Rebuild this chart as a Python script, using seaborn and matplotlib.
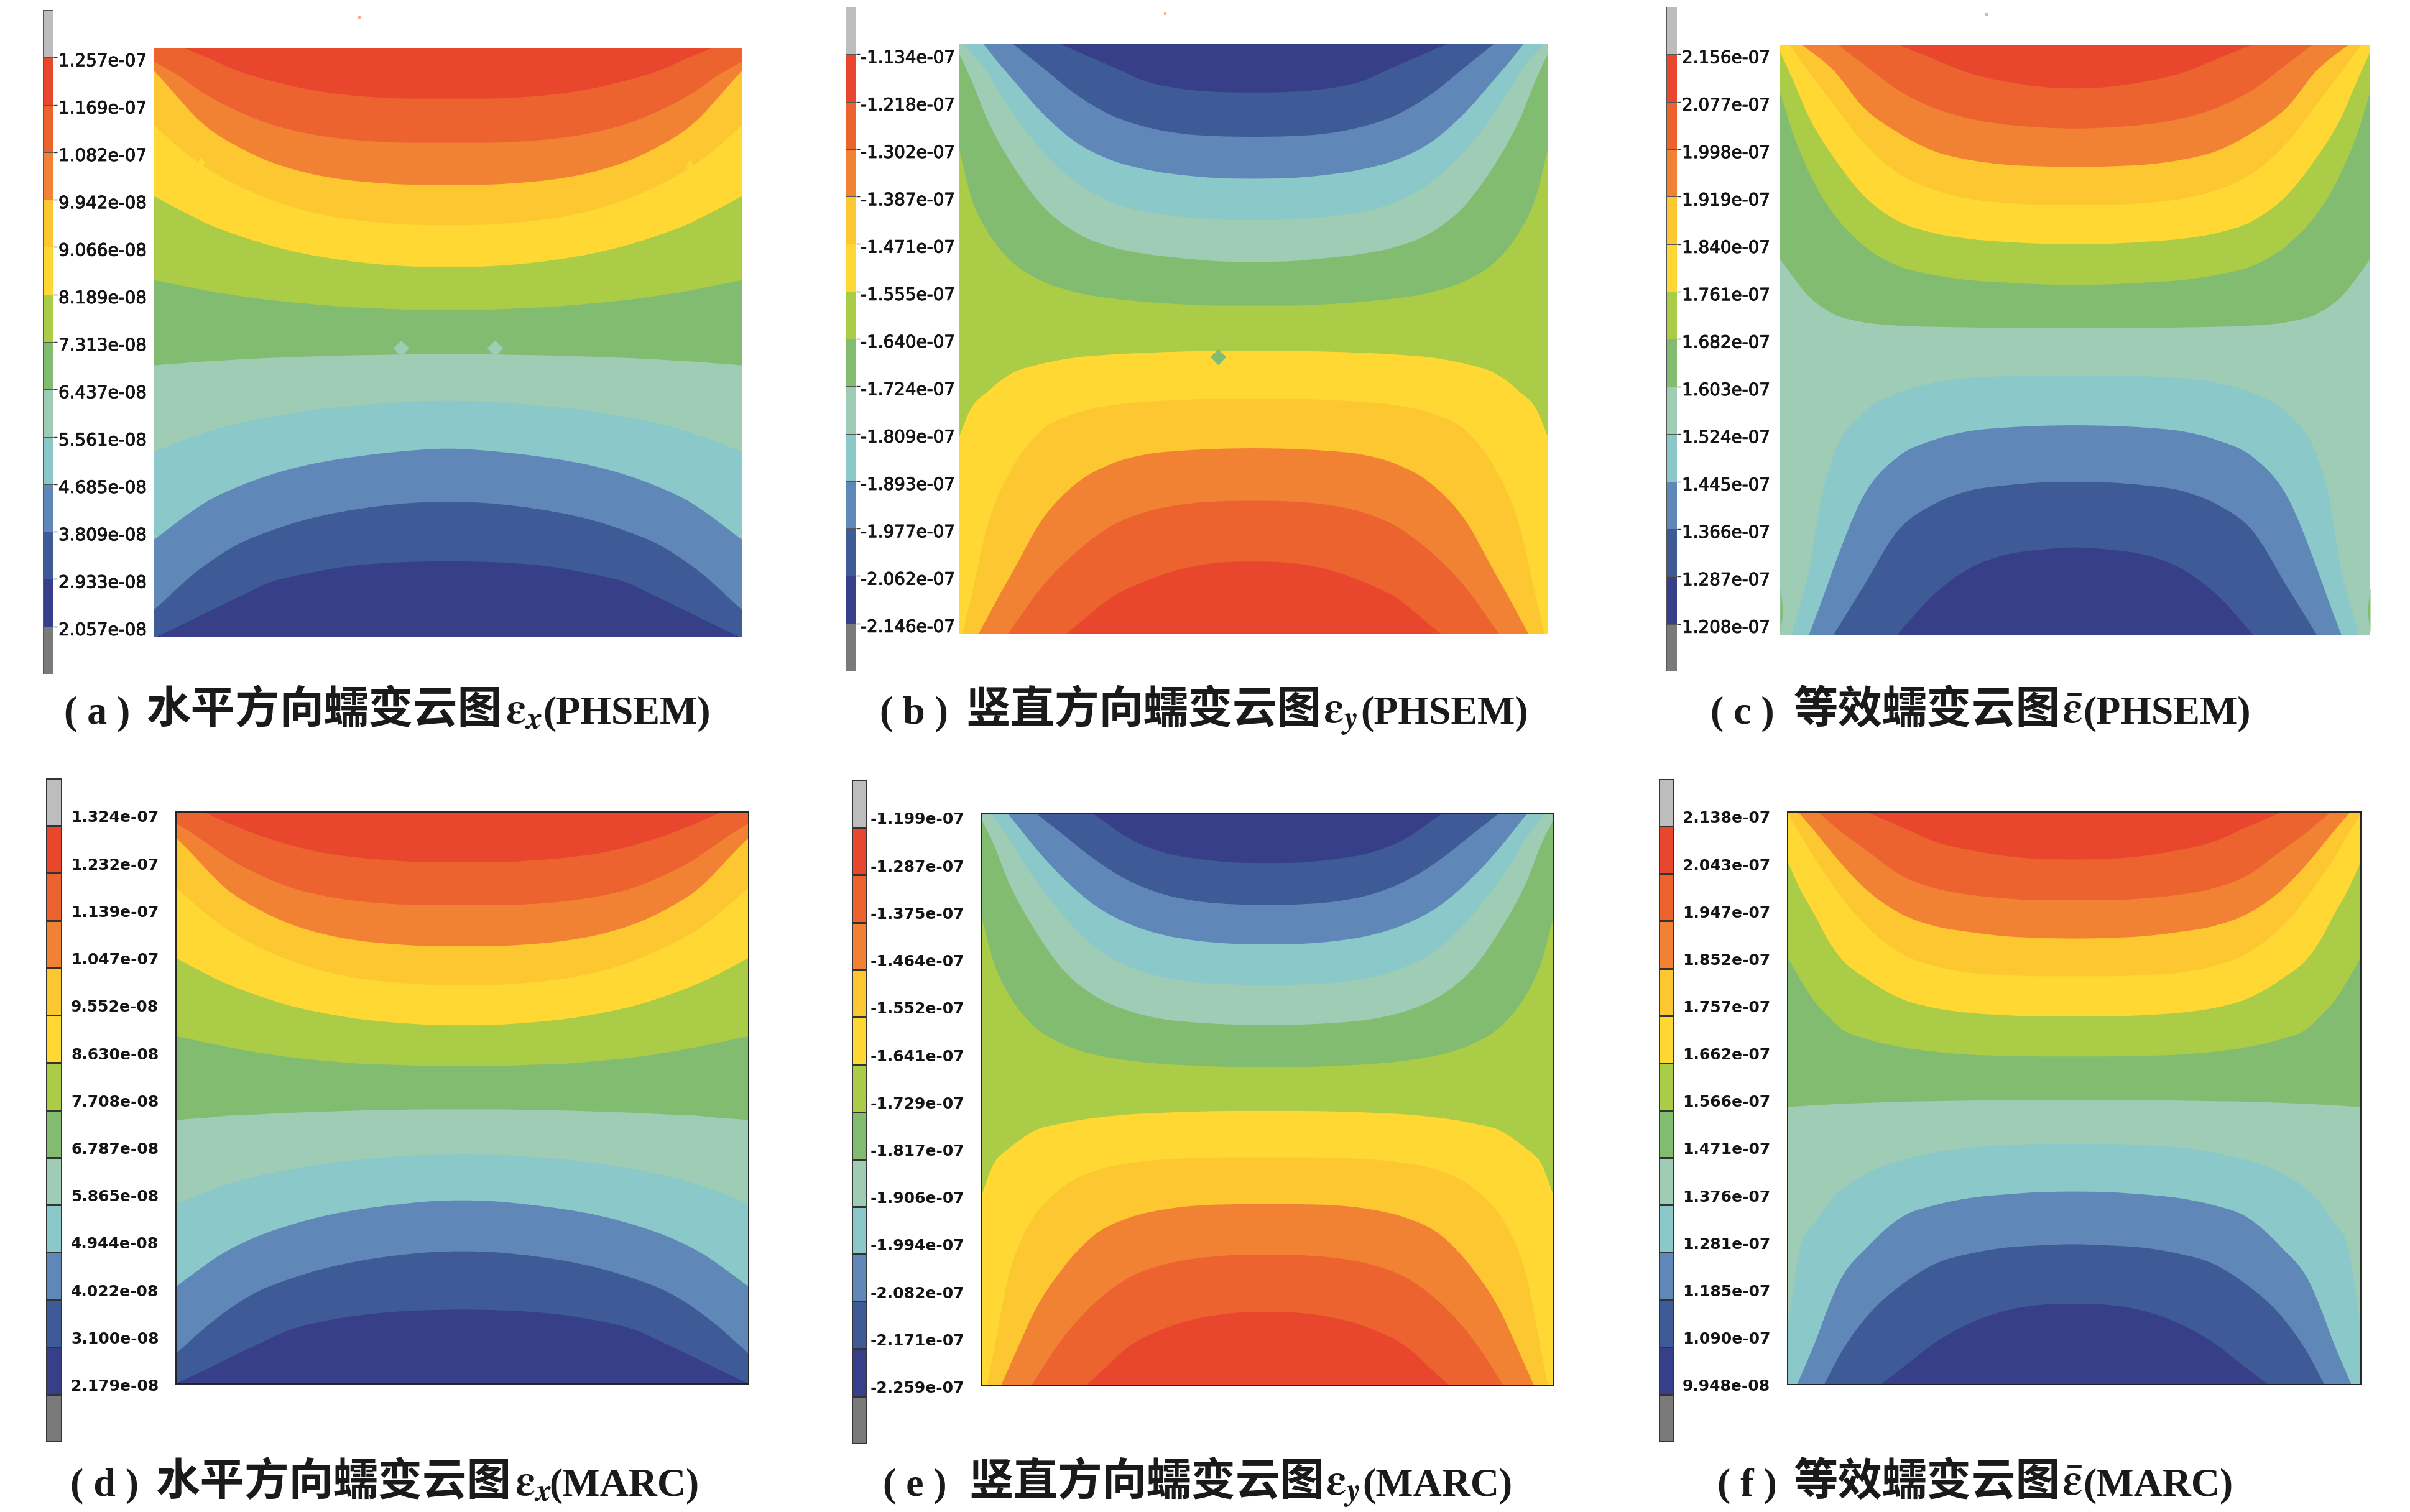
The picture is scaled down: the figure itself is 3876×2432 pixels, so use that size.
import matplotlib
matplotlib.use("Agg")
import matplotlib.pyplot as plt
import matplotlib.patheffects as pe
import numpy as np
import seaborn as sns
from matplotlib.colors import ListedColormap
from matplotlib.patches import PathPatch
from matplotlib.path import Path

W, H = 3876, 2432

# x stations across half of each square (the plots are mirrored about 0.5)
X_STATIONS = [0, .02, .05, .07, .09, .14, .2, .26, .32, .38, .44, .5]

# contour band boundaries, % of plot height measured from the top edge
A_BOUNDS = [
    [0, 0, 0, .8, 1.6, 3.8, 5.6, 7.0, 7.9, 8.4, 8.6, 8.6],
    [2.3, 3.4, 5.2, 6.7, 8.0, 10.6, 13, 14.5, 15.4, 15.9, 16.1, 16.1],
    [3.8, 6, 9.4, 11.6, 13.4, 16.6, 19.4, 21.2, 22.3, 22.9, 23.2, 23.2],
    [13, 14.9, 17.5, 19, 20.4, 23.2, 25.8, 27.7, 28.9, 29.6, 30, 30.1],
    [25.1, 26.2, 27.8, 28.8, 29.8, 31.7, 33.6, 35, 36, 36.7, 37.1, 37.2],
    [39.4, 39.8, 40.4, 40.8, 41.2, 42, 42.8, 43.4, 43.9, 44.2, 44.4, 44.4],
    [53.9, 53.7, 53.5, 53.3, 53.2, 52.9, 52.6, 52.4, 52.2, 52.1, 52, 52],
    [68.6, 67.8, 66.6, 65.9, 65.2, 63.8, 62.6, 61.6, 60.9, 60.4, 60, 59.9],
    [83.5, 82, 79.7, 78.3, 77, 74.6, 72.4, 70.8, 69.7, 68.9, 68.3, 68],
    [95.4, 93.6, 90.8, 89.1, 87.6, 84.4, 81.9, 80, 78.7, 77.8, 77.2, 77],
    [100, 99.2, 97.8, 96.8, 95.8, 93.4, 90.6, 89.2, 88.1, 87.5, 87.2, 87.1],
]
B_BOUNDS = [
    [0, 0, 0, 0, 0, 0, 0, 3.8, 6.4, 7.6, 8.1, 8.2],
    [0, 0, 0, 0, 0, 3.8, 8.6, 12.1, 14.1, 15.2, 15.6, 15.7],
    [0, 0, 1, 3.5, 5.8, 11.5, 16.7, 19.7, 21.3, 22.2, 22.7, 22.8],
    [0, 1.4, 5, 8.4, 11.5, 17.9, 23.5, 26.8, 28.5, 29.3, 29.7, 29.8],
    [1.5, 5.8, 13.1, 17, 20.3, 27.2, 32, 34.4, 35.6, 36.3, 36.8, 36.9],
    [17.5, 25.6, 32, 34.8, 36.9, 40.1, 42.1, 43.1, 43.7, 44.1, 44.3, 44.3],
    [66.7, 61.9, 58.8, 57.1, 55.8, 54.2, 53.1, 52.6, 52.3, 52.1, 52, 52],
    [100, 94.1, 81.2, 75.8, 71.9, 65.5, 62.5, 61.2, 60.6, 60.3, 60.1, 60.1],
    [100, 100, 96.9, 93.2, 89.7, 80.8, 74.4, 71.1, 69.5, 68.9, 68.6, 68.5],
    [100, 100, 100, 100, 99, 92.1, 86, 81.6, 79.2, 78, 77.5, 77.4],
    [100, 100, 100, 100, 100, 100, 98.5, 93.7, 90.9, 88.9, 87.9, 87.7],
]
C_BOUNDS = [
    [0, 0, 0, 0, 0, 0, 0, 2.4, 4.8, 6.2, 7.1, 7.4],
    [0, 0, 0, 0, 0, 3.2, 7.7, 10.7, 12.5, 13.5, 14, 14.2],
    [0, 0, 1, 2.5, 4.3, 10.5, 14.9, 18, 19.5, 20.3, 20.6, 20.7],
    [0, .6, 4.8, 7.4, 10, 16.5, 21.8, 24.6, 26.1, 26.8, 27.1, 27.1],
    [1.2, 5.6, 12.5, 16, 19, 25.4, 29.9, 31.9, 32.9, 33.4, 33.7, 33.8],
    [8, 14.5, 21.8, 25.6, 28.6, 33.9, 37.5, 39, 39.9, 40.3, 40.6, 40.7],
    [36.3, 39.1, 42.8, 44.4, 45.6, 47, 47.6, 47.8, 47.9, 48, 48, 48],
    [100, 99.8, 88.4, 76.7, 69.8, 62.5, 59, 57.3, 56.5, 56.2, 56.1, 56.1],
    [100, 100, 99.7, 94.4, 88.8, 76.7, 69.8, 67, 65.5, 64.9, 64.6, 64.5],
    [100, 100, 100, 100, 100, 92, 82.3, 77.9, 75.6, 74.7, 74.2, 74.1],
    [100, 100, 100, 100, 100, 100, 99.8, 93.2, 88.8, 86.5, 85.6, 85.2],
]
D_BOUNDS = [
    [0, 0, .1, 1, 1.9, 3.9, 5.8, 7.2, 8, 8.5, 8.8, 8.8],
    [2, 3.2, 5.2, 6.6, 8, 10.7, 13.2, 14.7, 15.6, 16.1, 16.3, 16.3],
    [4.5, 6.5, 9.7, 11.8, 13.6, 16.8, 19.6, 21.4, 22.5, 23.1, 23.4, 23.4],
    [13.2, 15, 17.6, 19.2, 20.6, 23.4, 26, 27.9, 29.1, 29.8, 30.2, 30.3],
    [25.5, 26.6, 28.2, 29.2, 30.1, 32, 33.9, 35.2, 36.2, 36.8, 37.2, 37.3],
    [39.2, 39.6, 40.3, 40.7, 41.1, 42, 42.9, 43.5, 44, 44.2, 44.4, 44.4],
    [53.9, 53.7, 53.5, 53.3, 53.1, 52.9, 52.6, 52.4, 52.2, 52.1, 52, 52],
    [68.5, 67.7, 66.5, 65.8, 65.1, 63.7, 62.5, 61.5, 60.8, 60.3, 59.9, 59.8],
    [83, 81.5, 79.3, 77.9, 76.7, 74.3, 72.2, 70.6, 69.5, 68.7, 68.1, 67.9],
    [94.7, 92.9, 90.2, 88.6, 87.1, 84, 81.6, 79.8, 78.5, 77.6, 77, 76.8],
    [100, 99, 97.6, 96.6, 95.6, 93.2, 90.5, 89, 88, 87.4, 87.1, 87],
]
E_BOUNDS = [
    [0, 0, 0, 0, 0, 0, .4, 4.5, 6.9, 8, 8.6, 8.7],
    [0, 0, 0, 0, 0, 3.5, 8.2, 11.9, 14.2, 15.4, 15.9, 16],
    [0, 0, .5, 3, 5.5, 11, 16.2, 19.4, 21.3, 22.3, 22.8, 22.9],
    [0, .5, 4.6, 8, 11, 17.5, 23.5, 26.9, 28.7, 29.6, 29.9, 30],
    [1, 5, 12.5, 16.4, 19.8, 27, 32, 34.6, 36, 36.6, 36.9, 37],
    [17.9, 25.4, 32, 34.8, 37, 40.2, 42.2, 43.2, 43.8, 44.1, 44.3, 44.3],
    [66.9, 61.6, 58.4, 56.9, 55.6, 54.2, 53.2, 52.6, 52.3, 52.1, 52, 52],
    [100, 95, 80, 74.5, 70.8, 65.5, 62.4, 61.1, 60.5, 60.2, 60.1, 60.1],
    [100, 100, 96.5, 92, 87.6, 79.8, 73.5, 70.6, 69.2, 68.5, 68.3, 68.2],
    [100, 100, 100, 100, 99.6, 92, 85.4, 81, 78.8, 77.7, 77.2, 77.1],
    [100, 100, 100, 100, 100, 100, 98.4, 93, 90, 88.2, 87.3, 87.1],
]
F_BOUNDS = [
    [0, 0, 0, 0, 0, 0, 2.7, 5.3, 6.7, 7.7, 8.2, 8.3],
    [0, 0, 0, 1.5, 3.2, 6.9, 11.2, 13.4, 14.5, 15.1, 15.4, 15.4],
    [0, .2, 3.7, 6.2, 8.6, 13.8, 17.9, 20, 21, 21.7, 22, 22.1],
    [0, 3.6, 8.6, 11.5, 14.4, 20.2, 24.8, 27, 28.1, 28.5, 28.7, 28.7],
    [8.6, 13.1, 18.5, 22.3, 25.2, 29.3, 32.7, 34.3, 35.1, 35.5, 35.7, 35.7],
    [25.4, 28.9, 33.5, 35.6, 37.6, 39.7, 41.1, 41.9, 42.4, 42.6, 42.7, 42.7],
    [51.5, 51.4, 51.2, 51.1, 51, 50.8, 50.6, 50.5, 50.4, 50.3, 50.3, 50.3],
    [90, 77.1, 71.3, 68.4, 66.3, 63, 60.8, 59.4, 58.6, 58.2, 58, 58],
    [100, 99.2, 92.1, 86.7, 82.1, 75.9, 70.7, 68.6, 67.4, 66.8, 66.4, 66.3],
    [100, 100, 100, 98.8, 95, 87.9, 82.5, 78.8, 77.1, 76.1, 75.7, 75.5],
    [100, 100, 100, 100, 100, 100, 97.1, 92.5, 89.2, 87.1, 86.1, 85.9],
]

# colour bar tick labels, top to bottom
A_LABELS = ["1.257e-07", "1.169e-07", "1.082e-07", "9.942e-08", "9.066e-08", "8.189e-08", "7.313e-08",
            "6.437e-08", "5.561e-08", "4.685e-08", "3.809e-08", "2.933e-08", "2.057e-08"]
B_LABELS = ["-1.134e-07", "-1.218e-07", "-1.302e-07", "-1.387e-07", "-1.471e-07", "-1.555e-07", "-1.640e-07",
            "-1.724e-07", "-1.809e-07", "-1.893e-07", "-1.977e-07", "-2.062e-07", "-2.146e-07"]
C_LABELS = ["2.156e-07", "2.077e-07", "1.998e-07", "1.919e-07", "1.840e-07", "1.761e-07", "1.682e-07",
            "1.603e-07", "1.524e-07", "1.445e-07", "1.366e-07", "1.287e-07", "1.208e-07"]
D_LABELS = ["1.324e-07", "1.232e-07", "1.139e-07", "1.047e-07", "9.552e-08", "8.630e-08", "7.708e-08",
            "6.787e-08", "5.865e-08", "4.944e-08", "4.022e-08", "3.100e-08", "2.179e-08"]
E_LABELS = ["-1.199e-07", "-1.287e-07", "-1.375e-07", "-1.464e-07", "-1.552e-07", "-1.641e-07", "-1.729e-07",
            "-1.817e-07", "-1.906e-07", "-1.994e-07", "-2.082e-07", "-2.171e-07", "-2.259e-07"]
F_LABELS = ["2.138e-07", "2.043e-07", "1.947e-07", "1.852e-07", "1.757e-07", "1.662e-07", "1.566e-07",
            "1.471e-07", "1.376e-07", "1.281e-07", "1.185e-07", "1.090e-07", "9.948e-08"]

# stray solver marks, (x fraction, % from top)
A_DIAMONDS_X = [.42, .58]
A_DIAMONDS_Y = [51, 51]
A_SLIM_X = [.08, .91]
A_SLIM_Y = [19.5, 20]
B_DIAMONDS_X = [.44]
B_DIAMONDS_Y = [53]
SPECK_X = [.35]
SPECK_Y = [-5.2]

# thin green sliver on both side edges of panel c
C_SLIVER_Y = [92, 96, 99.5]
C_SLIVER_X = [0, .005, 0]

BANDS = sns.color_palette(["#E8472E", "#EC6330", "#F28233", "#FDC731", "#FFD833", "#AACC46",
                           "#82BC70", "#9ECCB4", "#8BC8CA", "#5F88B8", "#3E5B98", "#373F88"])
LEGEND_TOP = "#BDBDBD"
LEGEND_BOTTOM = "#7A7A7A"

# layout in reference pixels
PANELS = [
    dict(bounds=A_BOUNDS, labels=A_LABELS, flip=False, plot=(247, 77, 1194, 1025), bar=(69, 16, 86, 1084), start=94,
         mark="(a)", cjk="水平方向蠕变云图", sym=r"$\boldsymbol{\varepsilon}_{\boldsymbol{x}}$", tail="(PHSEM)",
         tx=(103, 235, 813, 873), base=1163),
    dict(bounds=B_BOUNDS, labels=B_LABELS, flip=True, plot=(1542, 71, 2490, 1020), bar=(1360, 11, 1377, 1079), start=1384,
         mark="(b)", cjk="竖直方向蠕变云图", sym=r"$\boldsymbol{\varepsilon}_{\boldsymbol{y}}$", tail="(PHSEM)",
         tx=(1415, 1553, 2128, 2188), base=1163),
    dict(bounds=C_BOUNDS, labels=C_LABELS, flip=False, plot=(2863, 72, 3812, 1021), bar=(2680, 11, 2697, 1080), start=2705,
         mark="(c)", cjk="等效蠕变云图", sym=r"$\bar{\boldsymbol{\varepsilon}}$", tail="(PHSEM)",
         tx=(2751, 2885, 3316, 3350), base=1163),
    dict(bounds=D_BOUNDS, labels=D_LABELS, flip=False, plot=(283, 1306, 1204, 2226), bar=(74, 1252, 99, 2319), start=114,
         mark="(d)", cjk="水平方向蠕变云图", sym=r"$\boldsymbol{\varepsilon}_{\boldsymbol{x}}$", tail="(MARC)",
         tx=(113, 250, 828, 883), base=2405),
    dict(bounds=E_BOUNDS, labels=E_LABELS, flip=True, plot=(1578, 1308, 2499, 2229), bar=(1370, 1255, 1394, 2322), start=1400,
         mark="(e)", cjk="竖直方向蠕变云图", sym=r"$\boldsymbol{\varepsilon}_{\boldsymbol{y}}$", tail="(MARC)",
         tx=(1420, 1558, 2132, 2191), base=2405),
    dict(bounds=F_BOUNDS, labels=F_LABELS, flip=False, plot=(2875, 1306, 3797, 2227), bar=(2668, 1253, 2692, 2319), start=2706,
         mark="(f)", cjk="等效蠕变云图", sym=r"$\bar{\boldsymbol{\varepsilon}}$", tail="(MARC)",
         tx=(2762, 2885, 3316, 3350), base=2405),
]


def add_axes_px(fig, box):
    left, top, right, bottom = box
    return fig.add_axes([left / W, 1 - bottom / H, (right - left) / W, (bottom - top) / H])


def run_past_edge(x, y):
    # a boundary sitting on the plot edge really left the plot earlier: carry it on
    # straight beyond the edge (clipped away), so it meets the edge at its true slope
    y = np.array(y, dtype=float)
    k = 0
    while y[k] in (0, 100):
        k += 1
    s = (y[k + 1] - y[k]) / (x[k + 1] - x[k])
    y[:k] = y[k] + s * (x[:k] - x[k])
    return y


def slopes(x, y):
    # tangent at each read point, so the boundary bends smoothly through them
    s = np.diff(y) / np.diff(x)
    m = np.zeros_like(y)
    m[0], m[-1] = s[0], s[-1]
    for i in range(1, len(y) - 1):
        if s[i - 1] * s[i] > 0:
            m[i] = (s[i - 1] * (x[i + 1] - x[i]) + s[i] * (x[i] - x[i - 1])) / (x[i + 1] - x[i - 1])
    return m


def boundary_patch(x, y, color):
    m = slopes(x, y)
    low = 200
    verts = [(x[0], low), (x[0], y[0])]
    codes = [Path.MOVETO, Path.LINETO]
    for i in range(len(x) - 1):
        dx = (x[i + 1] - x[i]) / 3
        verts += [(x[i] + dx, y[i] + m[i] * dx), (x[i + 1] - dx, y[i + 1] - m[i + 1] * dx), (x[i + 1], y[i + 1])]
        codes += [Path.CURVE4] * 3
    verts += [(x[-1], low), (x[0], low)]
    codes += [Path.LINETO, Path.CLOSEPOLY]
    return PathPatch(Path(verts, codes), facecolor=color, edgecolor="none", linewidth=0)


def draw_field(ax, bounds, colors):
    half = np.array(X_STATIONS)
    x = np.concatenate([half, 1 - half[-2::-1]])
    ax.set_facecolor(colors[0])
    for curve, color in zip(bounds, colors[1:]):
        y = run_past_edge(half, curve)
        ax.add_patch(boundary_patch(x, np.concatenate([y, y[-2::-1]]), color))
    ax.set_xlim(0, 1)
    ax.set_ylim(100, 0)
    ax.set_xticks([])
    ax.set_yticks([])


def draw_legend(ax, labels, colors, start, bar_right, top_row):
    cells = [LEGEND_TOP] + list(colors) + [LEGEND_BOTTOM]
    levels = np.arange(len(cells)).reshape(-1, 1)
    sns.heatmap(levels, ax=ax, cmap=ListedColormap(cells), cbar=False, xticklabels=False,
                linewidths=1.0 if not top_row else 0.6, linecolor="#333333" if not top_row else "#555555")
    edges = np.arange(1, len(labels) + 1)
    ax.set_xticks([])
    ax.yaxis.tick_right()
    ax.set_yticks(edges)
    ax.set_yticklabels([])
    ax.tick_params(axis="y", which="major", length=4.5 if top_row else 0, width=1, color="#333333")
    ax.set_yticks(edges + (0.04 if top_row else -0.2), minor=True)
    texts = ax.set_yticklabels(labels, minor=True, fontsize=20 if top_row else 18,
                               fontweight="normal" if top_row else "bold", color="#151515", rotation=0)
    if top_row:
        for t in texts:
            t.set_path_effects([pe.withStroke(linewidth=0.7, foreground="#151515")])
    ax.tick_params(axis="y", which="minor", length=0, pad=(start - bar_right) * 0.72)


def add_caption(fig, p):
    xs = p["tx"]
    y = 1 - p["base"] / H
    latin = dict(family="Liberation Serif", weight="bold", fontsize=46, color="#1a1a1a", va="baseline")
    fig.text(xs[0] / W, y, p["mark"].replace("(", "( ").replace(")", " )"), **latin)
    fig.text(xs[1] / W, y, p["cjk"], family="Noto Sans CJK SC", weight="bold", fontsize=51.5, color="#1a1a1a", va="baseline")
    fig.text(xs[2] / W, y, p["sym"], fontsize=52, color="#1a1a1a", va="baseline")
    fig.text(xs[3] / W, y, p["tail"], **latin)


sns.set_theme(style="white")
plt.rcParams["mathtext.fontset"] = "stix"
plt.rcParams["font.family"] = ["DejaVu Sans"]

fig = plt.figure(figsize=(W / 100, H / 100), dpi=100, facecolor="white")

for n, p in enumerate(PANELS):
    colors = list(BANDS)[::-1] if p["flip"] else list(BANDS)
    ax = add_axes_px(fig, p["plot"])
    draw_field(ax, p["bounds"], colors)
    top_row = n < 3
    for side in ax.spines.values():
        side.set_visible(not top_row)
        side.set_color("#222222")
        side.set_linewidth(1.4)
    if top_row:
        sns.scatterplot(x=SPECK_X, y=SPECK_Y, ax=ax, marker="s", s=5, color="#F2B08A", linewidth=0, clip_on=False)
    if n == 0:
        sns.scatterplot(x=A_DIAMONDS_X, y=A_DIAMONDS_Y, ax=ax, marker="D", s=170, color=colors[7], linewidth=0)
        sns.scatterplot(x=A_SLIM_X, y=A_SLIM_Y, ax=ax, marker="d", s=110, color=colors[4], linewidth=0)
    if n == 1:
        sns.scatterplot(x=B_DIAMONDS_X, y=B_DIAMONDS_Y, ax=ax, marker="D", s=170, color=colors[5], linewidth=0)
    if n == 2:
        ax.fill_betweenx(C_SLIVER_Y, C_SLIVER_X, 0, color=colors[6], linewidth=0)
        ax.fill_betweenx(C_SLIVER_Y, 1 - np.array(C_SLIVER_X), 1, color=colors[6], linewidth=0)
    bar = add_axes_px(fig, p["bar"])
    draw_legend(bar, p["labels"], list(BANDS), p["start"], p["bar"][2], top_row)
    add_caption(fig, p)

fig.savefig("out.png", dpi=100, facecolor="white")
